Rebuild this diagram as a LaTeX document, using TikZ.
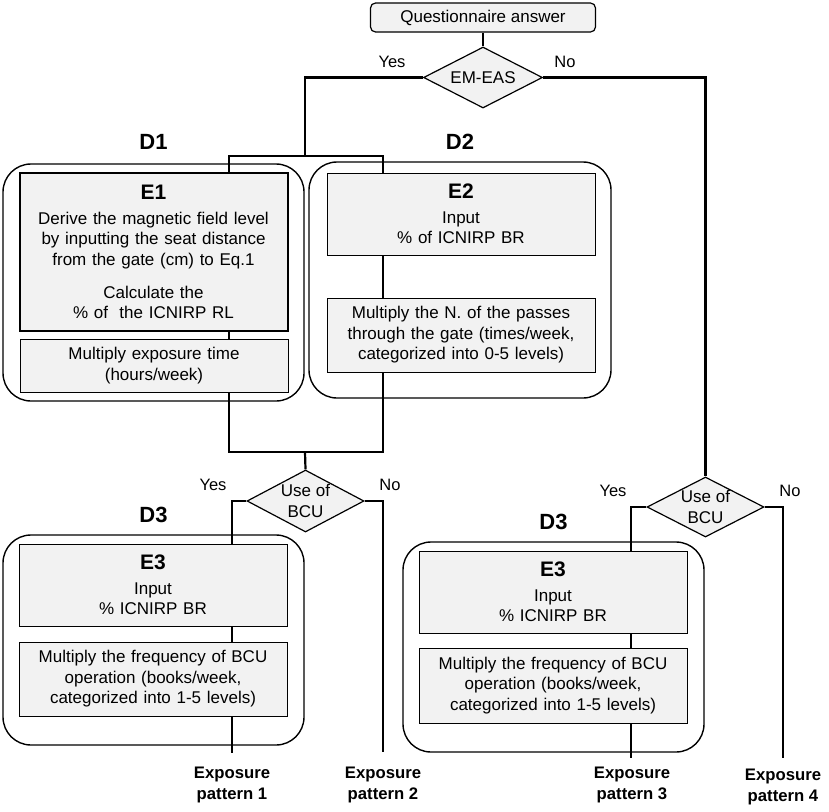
\documentclass[tikz,border=0pt]{standalone}
\usepackage{fontspec}
\setmainfont{Liberation Sans}
\usetikzlibrary{shapes.geometric}

\definecolor{boxgray}{HTML}{F2F2F2}

\tikzset{
        flow/.style={line width=2.2pt},
        groupbox/.style={draw, line width=1.4pt, rounded corners=28pt, inner sep=0pt},
        stepbox/.style={draw, line width=1pt, fill=boxgray, inner sep=0pt, minimum width=268pt,
                text width=262pt, align=center, font=\fontsize{17}{20.5}\selectfont},
        decision/.style={diamond, aspect=2, draw, line width=1.2pt, fill=boxgray, inner sep=0pt,
                align=center, font=\fontsize{17}{20.5}\selectfont},
        answer/.style={font=\fontsize{16.5}{20}\selectfont},
        grouplabel/.style={font=\fontsize{22}{24}\selectfont\bfseries},
        outlabel/.style={align=center, inner sep=0pt, font=\fontsize{16.7}{20.5}\selectfont\bfseries}
}
\newcommand{\steptitle}[1]{{\fontsize{21}{24}\selectfont\bfseries #1}}

\begin{document}
\begin{tikzpicture}[x=1pt,y=-1pt]
        \useasboundingbox (0,0) rectangle (829,811);

        % groups
        \node[groupbox, minimum width=301pt, minimum height=237pt] (d1) at (153.5,282.5) {};
        \node[groupbox, minimum width=302pt, minimum height=236pt] (d2) at (460,280) {};
        \node[groupbox, minimum width=301pt, minimum height=210pt] (d3l) at (153.5,640) {};
        \node[groupbox, minimum width=301pt, minimum height=210pt] (d3r) at (553.5,647) {};
        \node[grouplabel] (d1lab) at (153.5,142) {D1};
        \node[grouplabel] (d2lab) at (460,142) {D2};
        \node[grouplabel] (d3llab) at (153.5,515) {D3};
        \node[grouplabel] (d3rlab) at (553.5,522) {D3};

        % start
        \node[draw, line width=1.2pt, fill=boxgray, rounded corners=5pt, minimum width=225pt,
                minimum height=29pt, font=\fontsize{17}{20.5}\selectfont] (quest) at (483,17.5)
                {Questionnaire answer};
        \node[decision, minimum width=119pt, minimum height=61pt] (emeas) at (483,77.5) {EM-EAS};
        \node[answer] (yes1) at (392,62) {Yes};
        \node[answer] (no1) at (565,62) {No};

        % D1 / D2
        \node[stepbox, line width=2pt, minimum height=158pt] (e1) at (153.5,252) {
                \steptitle{E1}\\[4pt]
                Derive the magnetic field level\\
                by inputting the seat distance\\
                from the gate (cm) to Eq.1\\[12.5pt]
                Calculate the\\
                \% of\ \ the ICNIRP RL};
        \node[stepbox, minimum height=53pt] (e1m) at (154,365.5)
                {Multiply exposure time\\(hours/week)};
        \node[stepbox, minimum height=82pt] (e2) at (461,214)
                {\steptitle{E2}\\[4pt]Input\\\% of ICNIRP BR};
        \node[stepbox, minimum height=74pt] (e2m) at (461,335)
                {Multiply the N. of the passes\\through the gate (times/week,\\categorized into 0-5 levels)};

        % D3 left
        \node[decision, minimum width=117pt, minimum height=62pt] (bcul) at (305.5,501) {Use of\\BCU};
        \node[answer] (yes2) at (213,485) {Yes};
        \node[answer] (no2) at (390,485) {No};
        \node[stepbox, minimum height=82pt] (e3l) at (153,585)
                {\steptitle{E3}\\[4pt]Input\\\% ICNIRP BR};
        \node[stepbox, minimum height=74pt] (e3lm) at (153,679)
                {Multiply the frequency of BCU\\operation (books/week,\\categorized into 1-5 levels)};

        % D3 right
        \node[decision, minimum width=117pt, minimum height=60pt] (bcur) at (705.5,507) {Use of\\BCU};
        \node[answer] (yes3) at (613,491) {Yes};
        \node[answer] (no3) at (790,491) {No};
        \node[stepbox, minimum height=82pt] (e3r) at (553,592)
                {\steptitle{E3}\\[4pt]Input\\\% ICNIRP BR};
        \node[stepbox, minimum height=75pt] (e3rm) at (553,685.5)
                {Multiply the frequency of BCU\\operation (books/week,\\categorized into 1-5 levels)};

        % outcomes
        \node[outlabel] (out1) at (232,785) {Exposure\\pattern 1};
        \node[outlabel] (out2) at (383,785) {Exposure\\pattern 2};
        \node[outlabel] (out3) at (632,785) {Exposure\\pattern 3};
        \node[outlabel] (out4) at (783,787) {Exposure\\pattern 4};

        \coordinate (lanea) at (229,0);
        \coordinate (laneb) at (383,0);
        \coordinate (lanec) at (232,0);
        \coordinate (laned) at (631,0);
        \coordinate (split) at (305,156);
        \coordinate (merge) at (305,452);
        \coordinate (end1) at (232,753);
        \coordinate (end2) at (383,752);
        \coordinate (end3) at (631,758);
        \coordinate (end4) at (783,758);

        % connectors
        \draw[flow] (quest.south) -- (emeas.north);
        \draw[flow] (emeas.west) -| (split);
        \draw[flow] (e1.north -| lanea) |- (split) -| (e2.north -| laneb);
        \draw[flow] (e1.south -| lanea) -- (e1m.north -| lanea);
        \draw[flow] (e2.south -| laneb) -- (e2m.north -| laneb);
        \draw[flow] (e1m.south -| lanea) |- (merge) -| (e2m.south -| laneb);
        \draw[flow] (merge) -- (bcul.north);
        \draw[flow] (bcul.west) -| (e3l.north -| lanec);
        \draw[flow] (e3l.south -| lanec) -- (e3lm.north -| lanec);
        \draw[flow] (e3lm.south -| lanec) -- (end1);
        \draw[flow] (bcul.east) -| (end2);
        \draw[flow] (emeas.east) -| (bcur.north);
        \draw[flow] (bcur.west) -| (e3r.north -| laned);
        \draw[flow] (e3r.south -| laned) -- (e3rm.north -| laned);
        \draw[flow] (e3rm.south -| laned) -- (end3);
        \draw[flow] (bcur.east) -| (end4);
\end{tikzpicture}
\end{document}
